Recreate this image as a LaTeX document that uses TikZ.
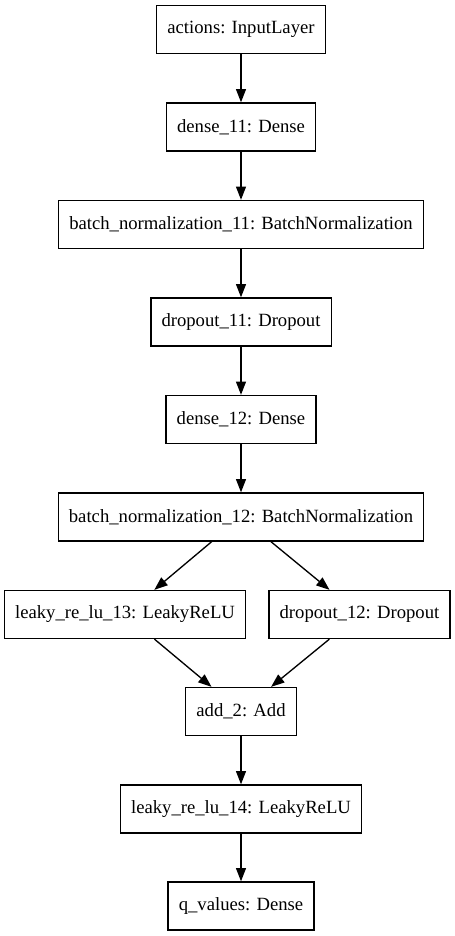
\documentclass[tikz,border=0pt]{standalone}
\usepackage{fontspec}
\setmainfont{Liberation Serif}
\usetikzlibrary{arrows.meta,positioning}
\tikzset{
  layer/.style={draw,line width=1pt,rectangle,minimum height=36pt,
    inner xsep=8pt,font=\fontsize{14}{16}\selectfont},
  flow/.style={-{Triangle[length=10pt,width=7.5pt]},line width=1pt}
}

\begin{document}
\begin{tikzpicture}[x=0.75pt,y=-0.75pt]
        \useasboundingbox (0,0) rectangle (454,936);
        % Hauptstrang
        \node[layer] (actions) at (241,29.5) {actions: InputLayer};
        \node[layer] (dense11) at (241,127) {dense\_11: Dense};
        \node[layer] (bn11) at (241,224.5) {batch\_normalization\_11: BatchNormalization};
        \node[layer] (drop11) at (241,322) {dropout\_11: Dropout};
        \node[layer] (dense12) at (241,419.5) {dense\_12: Dense};
        \node[layer] (bn12) at (241,517) {batch\_normalization\_12: BatchNormalization};
        % Verzweigung
        \node[layer] (leaky13) at (125,614.5) {leaky\_re\_lu\_13: LeakyReLU};
        \node[layer] (drop12) at (359.5,614.5) {dropout\_12: Dropout};
        % Zusammenfuehrung
        \node[layer] (add2) at (241,711.5) {add\_2: Add};
        \node[layer] (leaky14) at (241,809) {leaky\_re\_lu\_14: LeakyReLU};
        \node[layer] (qvalues) at (241,906) {q\_values: Dense};
        % Kanten
        \draw[flow] (actions) -- (dense11);
        \draw[flow] (dense11) -- (bn11);
        \draw[flow] (bn11) -- (drop11);
        \draw[flow] (drop11) -- (dense12);
        \draw[flow] (dense12) -- (bn12);
        \draw[flow] (bn12) -- (leaky13);
        \draw[flow] (bn12) -- (drop12);
        \draw[flow] (leaky13) -- (add2);
        \draw[flow] (drop12) -- (add2);
        \draw[flow] (add2) -- (leaky14);
        \draw[flow] (leaky14) -- (qvalues);
      \end{tikzpicture}
\end{document}
